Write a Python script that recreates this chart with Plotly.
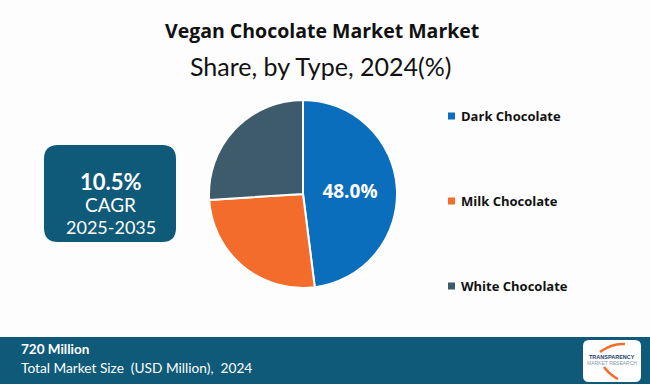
import plotly.graph_objects as go

categories = ["Dark Chocolate", "Milk Chocolate", "White Chocolate"]
shares = [48.0, 26.0, 26.0]
colors = ["#0a6ebd", "#f36c2b", "#3e5b6b"]
title_text = "Vegan Chocolate Market Market"
subtitle_text = "Share, by Type, 2024(%)"
cagr_value = "10.5%"
cagr_period = "2025-2035"
market_size = "720 Million"
market_label = "Total Market Size  (USD Million),  2024"

W, H = 650, 384
teal = "#0f5a79"

def px(x):
    return x / W

def py(y):
    return 1 - y / H

def rounded(x0, x1, y0, y1, r):
    return (f"M {px(x0 + r)} {py(y0)} L {px(x1 - r)} {py(y0)} "
            f"Q {px(x1)} {py(y0)} {px(x1)} {py(y0 + r)} "
            f"L {px(x1)} {py(y1 - r)} Q {px(x1)} {py(y1)} {px(x1 - r)} {py(y1)} "
            f"L {px(x0 + r)} {py(y1)} Q {px(x0)} {py(y1)} {px(x0)} {py(y1 - r)} "
            f"L {px(x0)} {py(y0 + r)} Q {px(x0)} {py(y0)} {px(x0 + r)} {py(y0)} Z")

fig = go.Figure()
fig.add_trace(go.Pie(
    labels=categories,
    values=shares,
    sort=False,
    direction="clockwise",
    rotation=0,
    marker=dict(colors=colors, line=dict(color="white", width=2)),
    texttemplate=[f"{shares[0]:.1f}%", "", ""],
    textposition="inside",
    insidetextorientation="horizontal",
    textfont=dict(family="Open Sans", size=19, color="white", weight="bold"),
    domain=dict(x=[px(209), px(397)], y=[py(288), py(100)]),
    showlegend=False,
    hoverinfo="label+percent",
))

shapes = []
annotations = []

# Title
annotations.append(dict(x=px(322), y=py(30), xref="paper", yref="paper", text=f"<b>{title_text}</b>",
                        showarrow=False, font=dict(family="Open Sans", size=19.5, color="#111"),
                        xanchor="center", yanchor="middle"))
annotations.append(dict(x=px(320), y=py(66), xref="paper", yref="paper", text=subtitle_text,
                        showarrow=False, font=dict(family="Lato", size=25, color="#111"),
                        xanchor="center", yanchor="middle"))

# Legend (manual)
leg_y = [116, 201, 286]
for name, col, yy in zip(categories, colors, leg_y):
    shapes.append(dict(type="rect", xref="paper", yref="paper",
                       x0=px(448), x1=px(455), y0=py(yy + 3.5), y1=py(yy - 3.5),
                       fillcolor=col, line=dict(width=0)))
    annotations.append(dict(x=px(459), y=py(yy), xref="paper", yref="paper", text=f"<b>{name}</b>",
                            showarrow=False, font=dict(family="Open Sans", size=13, color="#111"),
                            xanchor="left", yanchor="middle"))

# CAGR box
shapes.append(dict(type="path", xref="paper", yref="paper", path=rounded(44, 176, 145, 242, 14),
                   fillcolor=teal, line=dict(width=0)))
annotations.append(dict(x=px(111), y=py(181), xref="paper", yref="paper", text=f"<b>{cagr_value}</b>",
                        showarrow=False, font=dict(family="Lato", size=22, color="white"),
                        xanchor="center", yanchor="middle"))
annotations.append(dict(x=px(111), y=py(204), xref="paper", yref="paper", text="CAGR",
                        showarrow=False, font=dict(family="Lato", size=19, color="white"),
                        xanchor="center", yanchor="middle"))
annotations.append(dict(x=px(111), y=py(227), xref="paper", yref="paper", text=cagr_period,
                        showarrow=False, font=dict(family="Lato", size=18, color="white"),
                        xanchor="center", yanchor="middle"))

# Bottom bar
shapes.append(dict(type="rect", xref="paper", yref="paper", x0=0, x1=1, y0=0, y1=py(337),
                   fillcolor=teal, line=dict(width=0)))
annotations.append(dict(x=px(19), y=py(349), xref="paper", yref="paper", text=f"<b>{market_size}</b>",
                        showarrow=False, font=dict(family="Lato", size=13.5, color="white"),
                        xanchor="left", yanchor="middle"))
annotations.append(dict(x=px(19), y=py(367), xref="paper", yref="paper", text=market_label,
                        showarrow=False, font=dict(family="Lato", size=13.7, color="white"),
                        xanchor="left", yanchor="middle"))

# Logo
shapes.append(dict(type="path", xref="paper", yref="paper", path=rounded(583, 641, 340, 382, 6),
                   fillcolor="white", line=dict(width=0)))
shapes.append(dict(type="path", xref="paper", yref="paper",
                   path=f"M {px(600)} {py(352)} Q {px(612)} {py(343)} {px(625)} {py(344)}",
                   line=dict(color="#f36c2b", width=2.5)))
shapes.append(dict(type="path", xref="paper", yref="paper",
                   path=f"M {px(604)} {py(367)} Q {px(610)} {py(375)} {px(618)} {py(379)}",
                   line=dict(color="#f36c2b", width=2.5)))
annotations.append(dict(x=px(612), y=py(357), xref="paper", yref="paper", text="<b>TRANSPARENCY</b>",
                        showarrow=False, font=dict(family="Liberation Sans Narrow, Liberation Sans", size=5.5, color="#1b3d6d"),
                        xanchor="center", yanchor="middle"))
annotations.append(dict(x=px(612), y=py(362.5), xref="paper", yref="paper", text="MARKET RESEARCH",
                        showarrow=False, font=dict(family="Liberation Sans Narrow, Liberation Sans", size=5, color="#8a9aa8"),
                        xanchor="center", yanchor="middle"))

fig.update_layout(
    width=W, height=H,
    margin=dict(l=0, r=0, t=0, b=0),
    paper_bgcolor="#fdfdfd",
    plot_bgcolor="#fdfdfd",
    shapes=shapes,
    annotations=annotations,
    showlegend=False,
)

fig.write_html("out.html", config={"displayModeBar": False},
               post_script="document.body.style.margin='0';document.body.style.overflow='hidden';")
